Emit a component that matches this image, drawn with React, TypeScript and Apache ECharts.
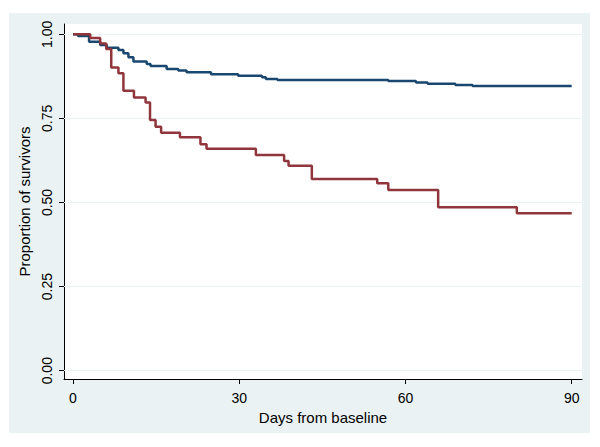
import React, { useEffect, useRef } from "react";
import * as echarts from "echarts";

const blueDays = [0, 0.9, 2.9, 4.9, 6.1, 8.2, 9.1, 10.0, 10.9, 13.3, 14.0, 16.9, 19.0, 20.5, 24.9, 29.8, 34.1, 34.8, 36.9, 56.9, 61.9, 64.0, 69.0, 72.1, 90];
const blueSurv = [1.0, 0.995, 0.978, 0.968, 0.96, 0.953, 0.944, 0.932, 0.919, 0.912, 0.906, 0.897, 0.892, 0.887, 0.881, 0.877, 0.872, 0.867, 0.864, 0.861, 0.857, 0.853, 0.849, 0.846, 0.846];

const redDays = [0, 3.1, 4.9, 6.0, 6.9, 8.2, 9.1, 11.0, 13.1, 13.9, 14.9, 15.9, 19.3, 23.0, 24.1, 33.0, 38.1, 38.9, 43.1, 54.9, 56.9, 65.9, 80.1, 90];
const redSurv = [1.0, 0.989, 0.973, 0.956, 0.901, 0.884, 0.832, 0.812, 0.797, 0.745, 0.725, 0.707, 0.694, 0.673, 0.66, 0.641, 0.623, 0.609, 0.57, 0.557, 0.537, 0.486, 0.468, 0.468];

const xTicks = [0, 30, 60, 90];
const yTicks = [0, 0.25, 0.5, 0.75, 1.0];
const xTitle = "Days from baseline";
const yTitle = "Proportion of survivors";

export default function App() {
  const ref = useRef<HTMLDivElement>(null);
  useEffect(() => {
    document.body.style.margin = "0";
    const chart = echarts.init(ref.current!, null, { renderer: "svg" });
    const pair = (xs: number[], ys: number[]) => xs.map((x, i) => [x, ys[i]]);
    chart.setOption({
      animation: false,
      backgroundColor: "#ffffff",
      textStyle: { fontFamily: "Liberation Sans, Arial, sans-serif" },
      graphic: [
        {
          type: "rect",
          z: -10,
          silent: true,
          shape: { x: 9, y: 13, width: 581, height: 420 },
          style: { fill: "#EAF2F3" },
        },
      ],
      grid: {
        left: 64,
        right: 18,
        top: 24,
        bottom: 68,
        show: true,
        backgroundColor: "#ffffff",
        borderWidth: 0,
      },
      xAxis: {
        type: "value",
        min: -1.625,
        max: 91.86,
        name: xTitle,
        nameLocation: "middle",
        nameGap: 24,
        nameTextStyle: { color: "#000", fontSize: 15 },
        axisLine: { show: true, onZero: false, lineStyle: { color: "#000", width: 1 } },
        axisTick: { show: true, length: 5, customValues: xTicks, lineStyle: { color: "#000" } },
        axisLabel: { customValues: xTicks, color: "#000", fontSize: 14, margin: 12 },
        splitLine: { show: false },
      },
      yAxis: {
        type: "value",
        min: -0.0247,
        max: 1.0306,
        name: yTitle,
        nameLocation: "middle",
        nameRotate: 90,
        nameGap: 27,
        nameTextStyle: { color: "#000", fontSize: 15 },
        axisLine: { show: true, onZero: false, lineStyle: { color: "#000", width: 1 } },
        axisTick: { show: true, length: 5, customValues: yTicks, lineStyle: { color: "#000" } },
        axisLabel: {
          customValues: yTicks,
          color: "#000",
          fontSize: 14,
          margin: 10,
          rotate: 90,
          formatter: (v: number) => v.toFixed(2),
        },
        splitLine: { show: false },
      },
      series: [
        {
          type: "line",
          data: [],
          silent: true,
          z: 1,
          markLine: {
            silent: true,
            symbol: "none",
            z: 1,
            label: { show: false },
            lineStyle: { color: "#EAF2F3", width: 1, type: "solid" },
            data: yTicks.map((v) => ({ yAxis: v })),
          },
        },
        {
          type: "line",
          step: "end",
          z: 5,
          data: pair(blueDays, blueSurv),
          showSymbol: false,
          lineStyle: { color: "#1A476F", width: 2.5 },
          itemStyle: { color: "#1A476F" },
        },
        {
          type: "line",
          step: "end",
          z: 6,
          data: pair(redDays, redSurv),
          showSymbol: false,
          lineStyle: { color: "#90353B", width: 2.5 },
          itemStyle: { color: "#90353B" },
        },
      ],
    });
    return () => chart.dispose();
  }, []);
  return <div ref={ref} style={{ width: 600, height: 447 }} />;
}
